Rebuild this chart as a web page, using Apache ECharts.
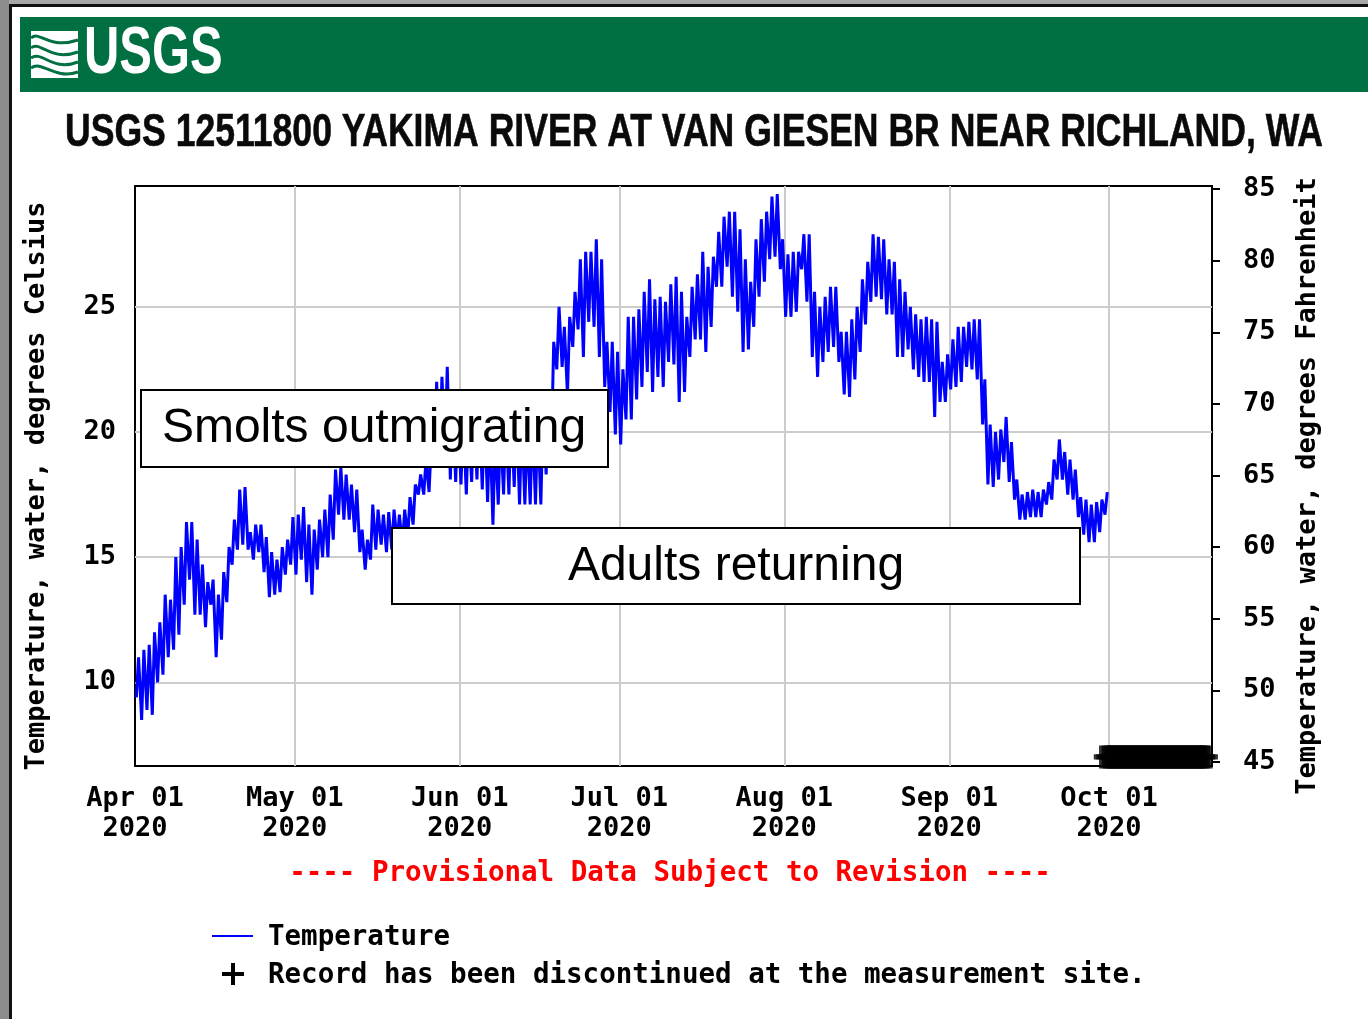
<!DOCTYPE html>
<html><head><meta charset="utf-8">
<script src="https://cdn.jsdelivr.net/npm/echarts@6/dist/echarts.min.js"></script>
<style>html,body{margin:0;padding:0;background:#fff}#c{width:1368px;height:1019px}</style>
</head><body><div id="c"></div>
<script>
// ---- Data ----
const siteTitle = 'USGS 12511800 YAKIMA RIVER AT VAN GIESEN BR NEAR RICHLAND, WA';
// x axis is "days since Apr 01 2020"
// daily maximum water temperature, deg C, Apr 1 .. Sep 30 2020
const dailyMax = [
 11.0,11.3,11.5,12.0,12.4,13.5,13.3,15.0,15.4,16.4,16.4,15.7,14.7,14.0,14.1,13.5,14.4,15.4,16.5,17.7,
 17.8,16.0,16.3,16.3,15.8,15.2,14.9,15.4,15.7,16.6,16.7,17.0,16.3,16.1,16.5,16.9,17.5,18.5,18.6,18.3,
 17.9,17.7,16.1,15.7,17.1,16.9,16.7,16.8,16.9,16.7,16.9,17.4,17.9,18.3,18.9,19.6,22.0,22.2,22.6,21.2,
 20.8,20.6,20.4,20.9,21.0,20.7,20.3,19.8,20.2,20.6,20.8,20.9,20.5,20.2,20.4,20.6,20.8,21.5,23.6,25.0,
 24.2,24.6,25.6,26.9,27.2,27.2,27.7,26.9,23.6,23.6,23.2,22.5,24.6,24.6,24.9,25.6,26.1,25.3,25.4,25.2,
 25.9,26.2,25.6,24.6,25.8,26.3,27.2,26.6,27.0,28.0,28.6,28.8,28.8,28.1,26.9,26.0,27.7,28.5,28.8,29.4,
 29.5,27.7,27.1,27.2,27.2,27.9,27.9,25.6,25.0,25.4,25.8,25.8,24.0,24.0,24.5,25.0,26.1,26.8,27.9,27.8,
 27.7,26.9,26.8,26.1,25.6,25.0,24.7,24.5,24.6,24.5,24.4,22.8,23.1,23.7,24.2,24.2,24.4,24.5,24.5,22.1,
 20.3,20.0,20.1,20.6,19.6,18.1,17.5,17.6,17.7,17.6,17.7,18.0,18.9,19.7,19.2,18.9,18.5,17.4,17.3,17.1,
 17.2,17.3,17.6
];
// daily minimum water temperature, deg C
const dailyMin = [
 9.4,8.5,8.9,8.7,10.0,10.3,11.0,11.3,11.9,13.1,14.1,12.7,12.7,12.2,13.1,11.0,11.7,13.2,14.7,15.3,
 15.5,15.3,14.9,15.2,14.4,13.4,13.5,13.6,14.3,14.7,14.3,14.9,14.0,13.5,14.5,15.0,15.0,15.7,16.7,16.5,
 16.5,16.0,15.2,14.5,14.9,15.3,15.5,15.2,15.3,15.6,15.5,15.8,16.3,17.5,17.5,17.6,18.6,19.2,19.4,18.1,
 18.0,17.9,17.5,18.0,18.1,17.7,17.2,16.3,17.1,17.5,17.5,17.8,17.1,17.1,17.1,17.1,17.1,18.3,19.5,22.5,
 22.6,21.5,23.4,24.1,23.0,24.4,24.2,23.0,21.8,20.8,19.9,19.5,20.5,20.5,21.3,21.8,22.4,21.6,22.2,21.8,
 22.8,22.7,21.2,21.6,23.0,23.7,23.7,23.2,24.2,25.8,25.8,26.6,25.4,24.8,23.2,23.3,24.2,25.4,26.0,26.9,
 27.0,26.5,24.6,24.6,24.8,26.5,25.2,23.0,22.2,22.8,23.2,23.4,22.8,21.5,21.4,22.1,23.2,24.3,25.2,25.4,
 25.3,24.7,24.7,23.0,23.0,23.3,22.5,22.2,22.0,22.0,20.6,21.2,21.2,21.7,21.8,22.0,22.6,22.5,22.1,20.3,
 17.9,17.8,18.1,18.8,18.0,17.3,16.5,16.5,16.6,16.6,16.6,17.1,17.3,18.1,18.1,17.5,17.3,16.6,15.9,15.6,
 15.6,16.0,16.7
];
// "Record has been discontinued" markers: day offsets from Apr 1 and level (deg C)
const discontinuedDayOffsets = [182.3,182.8,183.3,183.8,184.3,184.8,185.3,185.8,186.3,186.8,187.3,187.8,188.3,188.8,189.3,189.8,
  190.3,190.8,191.3,191.8,192.3,192.8,193.3,193.8,194.3,194.8,195.3,195.8,196.3,196.8,197.3,197.8,198.3,198.8,199.3,199.8,200.3,200.8,201.3];
const discontinuedLevel = 7.02;
// month ticks: day offsets from Apr 1 and their labels
const monthTickDays = [0, 30, 61, 91, 122, 153, 183];
const monthTickLabels = ['Apr 01\n2020','May 01\n2020','Jun 01\n2020','Jul 01\n2020','Aug 01\n2020','Sep 01\n2020','Oct 01\n2020'];
const celsiusTicks = [10,15,20,25];
const fahrenheitTicks = [45,50,55,60,65,70,75,80,85];

// ---- Build ----
const tempPoints = [];
for (let i = 0; i < dailyMax.length; i++) {
  tempPoints.push([i + 0.25, dailyMin[i]]);   // early-morning low
  tempPoints.push([i + 0.67, dailyMax[i]]);   // late-afternoon high
}
const discPoints = discontinuedDayOffsets.map(d => [d, discontinuedLevel]);

const MONO = '"DejaVu Sans Mono","Liberation Mono",monospace';
function wave(x1, y1, cx1, cy1, cx2, cy2, x2, y2) {
  return {type: 'bezierCurve', z: 52, shape: {x1: x1, y1: y1, cpx1: cx1, cpy1: cy1, cpx2: cx2, cpy2: cy2, x2: x2, y2: y2},
          style: {stroke: '#006f41', lineWidth: 3, fill: 'none'}};
}
const chart = echarts.init(document.getElementById('c'), null, {renderer: 'canvas'});
chart.setOption({
  animation: false,
  backgroundColor: '#ffffff',
  grid: {left: 135, top: 186, width: 1077, height: 580, show: true, borderColor: '#000', borderWidth: 2, backgroundColor: 'transparent'},
  xAxis: {
    type: 'value', min: 0, max: 202.35,
    axisLine: {show: false}, axisTick: {show: false}, splitLine: {show: false},
    axisLabel: {
      customValues: monthTickDays, margin: 18, lineHeight: 30,
      fontFamily: MONO, fontWeight: 'bold', fontSize: 27, color: '#000',
      formatter: v => { const k = monthTickDays.indexOf(Math.round(v)); return k >= 0 ? monthTickLabels[k] : ''; }
    }
  },
  yAxis: [{
    type: 'value', min: 6.656, max: 29.826,
    axisLine: {show: false}, axisTick: {show: false}, splitLine: {show: false},
    axisLabel: {customValues: celsiusTicks, margin: 19, fontFamily: MONO, fontWeight: 'bold', fontSize: 27, color: '#000'}
  }, {
    type: 'value', min: 44.72, max: 85.21, position: 'right',
    axisLine: {show: false}, splitLine: {show: false},
    axisTick: {show: true, customValues: fahrenheitTicks, length: 8, lineStyle: {color: '#000', width: 2}},
    axisLabel: {customValues: fahrenheitTicks, margin: 31, fontFamily: MONO, fontWeight: 'bold', fontSize: 27, color: '#000'}
  }],
  series: [{
    name: 'Temperature', type: 'line', data: tempPoints, yAxisIndex: 0, z: 3,
    showSymbol: false, symbol: 'none', lineStyle: {color: '#0000ff', width: 3, join: 'miter', miterLimit: 2}, itemStyle: {color: '#0000ff'},
    silent: true,
    markLine: {
      silent: true, symbol: 'none', z: 1, animation: false,
      label: {show: false}, emphasis: {disabled: true},
      lineStyle: {color: '#cccccc', width: 2, type: 'solid'},
      data: monthTickDays.slice(1).map(t => ({xAxis: t})).concat(celsiusTicks.map(v => ({yAxis: v})))
    }
  }, {
    name: 'Record has been discontinued at the measurement site.', type: 'scatter', data: discPoints, yAxisIndex: 0, z: 4,
    clip: false, silent: true,
    symbol: 'path://M0,8.5 H22 V13.5 H0 Z M5,0 H17 V22 H5 Z', symbolSize: [23, 23],
    itemStyle: {color: '#000'}
  }],
  graphic: [
    {type: 'rect', z: 50, shape: {x: 0, y: 0, width: 1368, height: 4}, style: {fill: '#a8a8a8'}},
    {type: 'rect', z: 50, shape: {x: 0, y: 0, width: 9, height: 1019}, style: {fill: '#8c8c8c'}},
    {type: 'rect', z: 51, shape: {x: 9, y: 4, width: 1359, height: 3}, style: {fill: '#111'}},
    {type: 'rect', z: 51, shape: {x: 9, y: 4, width: 3, height: 1015}, style: {fill: '#111'}},
    {type: 'rect', z: 50, shape: {x: 20, y: 17, width: 1348, height: 75}, style: {fill: '#006f41'}},
    {type: 'rect', z: 51, shape: {x: 31, y: 31, width: 47, height: 47}, style: {fill: '#ffffff'}},
    wave(31, 38, 40, 30, 48, 50, 78, 40),
    wave(31, 48, 40, 40, 50, 62, 78, 52),
    wave(31, 58, 42, 50, 52, 72, 78, 62),
    wave(31, 68, 42, 60, 54, 80, 78, 72),
    {type: 'text', z: 52, x: 84, y: 55, scaleX: 0.73, style: {text: 'USGS', font: 'bold 67px "Liberation Sans", Arial, sans-serif', fill: '#ffffff', textAlign: 'left', verticalAlign: 'middle'}},
    {type: 'text', z: 52, x: 694, y: 133, scaleX: 0.773, style: {text: siteTitle, font: 'bold 46px "Liberation Sans", Arial, sans-serif', fill: '#0a0a0a', stroke: '#0a0a0a', lineWidth: 0.6, textAlign: 'center', verticalAlign: 'middle'}},
    {type: 'text', z: 52, x: 37, y: 486, rotation: Math.PI / 2, style: {text: 'Temperature, water, degrees Celsius', font: 'bold 27px ' + MONO, fill: '#000', textAlign: 'center', verticalAlign: 'middle'}},
    {type: 'text', z: 52, x: 1308, y: 486, rotation: Math.PI / 2, style: {text: 'Temperature, water, degrees Fahrenheit', font: 'bold 27px ' + MONO, fill: '#000', textAlign: 'center', verticalAlign: 'middle'}},
    {type: 'text', z: 52, x: 670, y: 874, style: {text: '---- Provisional Data Subject to Revision ----', font: 'bold 27.5px ' + MONO, fill: '#ff0000', textAlign: 'center', verticalAlign: 'middle'}},
    {type: 'rect', z: 52, shape: {x: 212, y: 935, width: 41, height: 2}, style: {fill: '#0000ff'}},
    {type: 'text', z: 52, x: 268, y: 938, style: {text: 'Temperature', font: 'bold 27.5px ' + MONO, fill: '#000', textAlign: 'left', verticalAlign: 'middle'}},
    {type: 'rect', z: 52, shape: {x: 222, y: 972, width: 22, height: 4}, style: {fill: '#000'}},
    {type: 'rect', z: 52, shape: {x: 231, y: 963, width: 4, height: 22}, style: {fill: '#000'}},
    {type: 'text', z: 52, x: 268, y: 976, style: {text: 'Record has been discontinued at the measurement site.', font: 'bold 27.5px ' + MONO, fill: '#000', textAlign: 'left', verticalAlign: 'middle'}},
    {type: 'rect', z: 100, shape: {x: 141, y: 390, width: 467, height: 77}, style: {fill: '#fff', stroke: '#000', lineWidth: 2}},
    {type: 'text', z: 101, x: 374, y: 429, style: {text: 'Smolts outmigrating', font: '48px "Liberation Sans", Arial, sans-serif', fill: '#000', textAlign: 'center', verticalAlign: 'middle'}},
    {type: 'rect', z: 100, shape: {x: 392, y: 528, width: 688, height: 76}, style: {fill: '#fff', stroke: '#000', lineWidth: 2}},
    {type: 'text', z: 101, x: 736, y: 567, style: {text: 'Adults returning', font: '48px "Liberation Sans", Arial, sans-serif', fill: '#000', textAlign: 'center', verticalAlign: 'middle'}}
  ]
});
</script>
</body></html>
